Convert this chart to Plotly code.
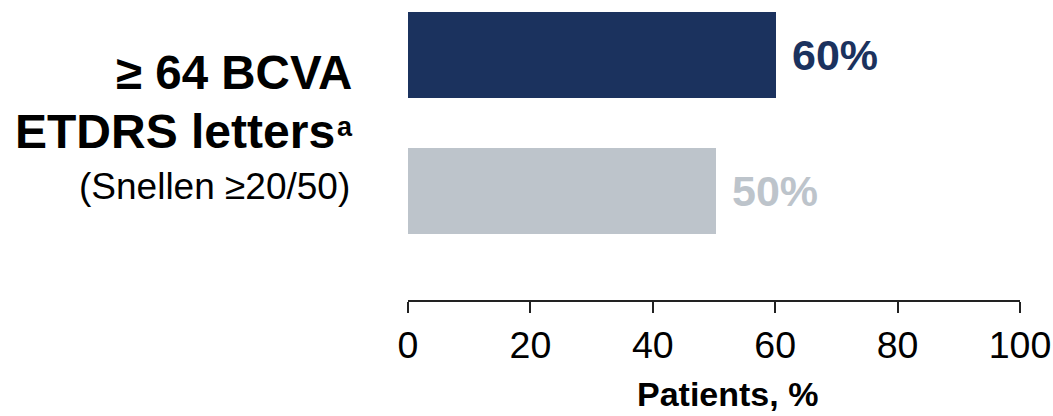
import plotly.graph_objects as go

categories = ["Treatment", "Control"]
values = [60.1, 50.4]
value_labels = ["60%", "50%"]
bar_colors = ["#1B325E", "#BDC4CB"]
tick_vals = [0, 20, 40, 60, 80, 100]
tick_text = ["0", "20", "40", "60", "80", "100"]
x_title = "Patients, %"

FONT = "Liberation Sans, Arial, sans-serif"


def px_x(p):
    return (p - 408) / 612


def px_y(p):
    return (300 - p) / 300


fig = go.Figure()
fig.add_trace(go.Bar(
    y=categories, x=values, orientation="h",
    marker=dict(color=bar_colors, line=dict(width=0)),
    width=0.632, showlegend=False, hoverinfo="skip",
))

for cat, v, lab, col in zip(categories, values, value_labels, bar_colors):
    fig.add_annotation(x=v, y=cat, xref="x", yref="y", text="<b>%s</b>" % lab,
                       showarrow=False, xanchor="left", yanchor="middle",
                       xshift=14, yshift=0,
                       font=dict(family=FONT, size=43, color=col))

# left category label block
fig.add_annotation(xref="paper", yref="paper", x=px_x(354), y=px_y(73),
                   text="<b>≥ 64 BCVA</b>", showarrow=False, xanchor="right", yanchor="middle",
                   font=dict(family=FONT, size=47.5, color="#000000"))
fig.add_annotation(xref="paper", yref="paper", x=px_x(337), y=px_y(131),
                   text="<b>ETDRS letters</b>", showarrow=False, xanchor="right", yanchor="middle",
                   font=dict(family=FONT, size=48, color="#000000"))
fig.add_annotation(xref="paper", yref="paper", x=px_x(335), y=px_y(127),
                   text="<b>a</b>", showarrow=False, xanchor="left", yanchor="middle",
                   font=dict(family=FONT, size=27, color="#000000"))
fig.add_annotation(xref="paper", yref="paper", x=px_x(352), y=px_y(186),
                   text="(Snellen ≥20/50)", showarrow=False, xanchor="right", yanchor="middle",
                   font=dict(family=FONT, size=37, color="#000000"))

# x axis title
fig.add_annotation(xref="paper", yref="paper", x=px_x(727.5), y=px_y(394),
                   text="<b>%s</b>" % x_title, showarrow=False, xanchor="center", yanchor="middle",
                   font=dict(family=FONT, size=34, color="#000000"))

fig.update_layout(
    width=1053, height=416,
    margin=dict(l=408, r=33, t=0, b=116, pad=0),
    paper_bgcolor="white", plot_bgcolor="white",
    bargap=0,
    xaxis=dict(range=[0, 100], tickvals=tick_vals, ticktext=tick_text,
               showline=True, linecolor="#222222", linewidth=2,
               ticks="outside", ticklen=11, tickwidth=2, tickcolor="#222222",
               showgrid=False, zeroline=False,
               tickfont=dict(family=FONT, size=37.5, color="#000000")),
    yaxis=dict(categoryorder="array", categoryarray=categories,
               range=[1.8015, -0.4044], showticklabels=False, showgrid=False,
               zeroline=False, showline=False, ticks=""),
)

fig.write_html("out.html")
